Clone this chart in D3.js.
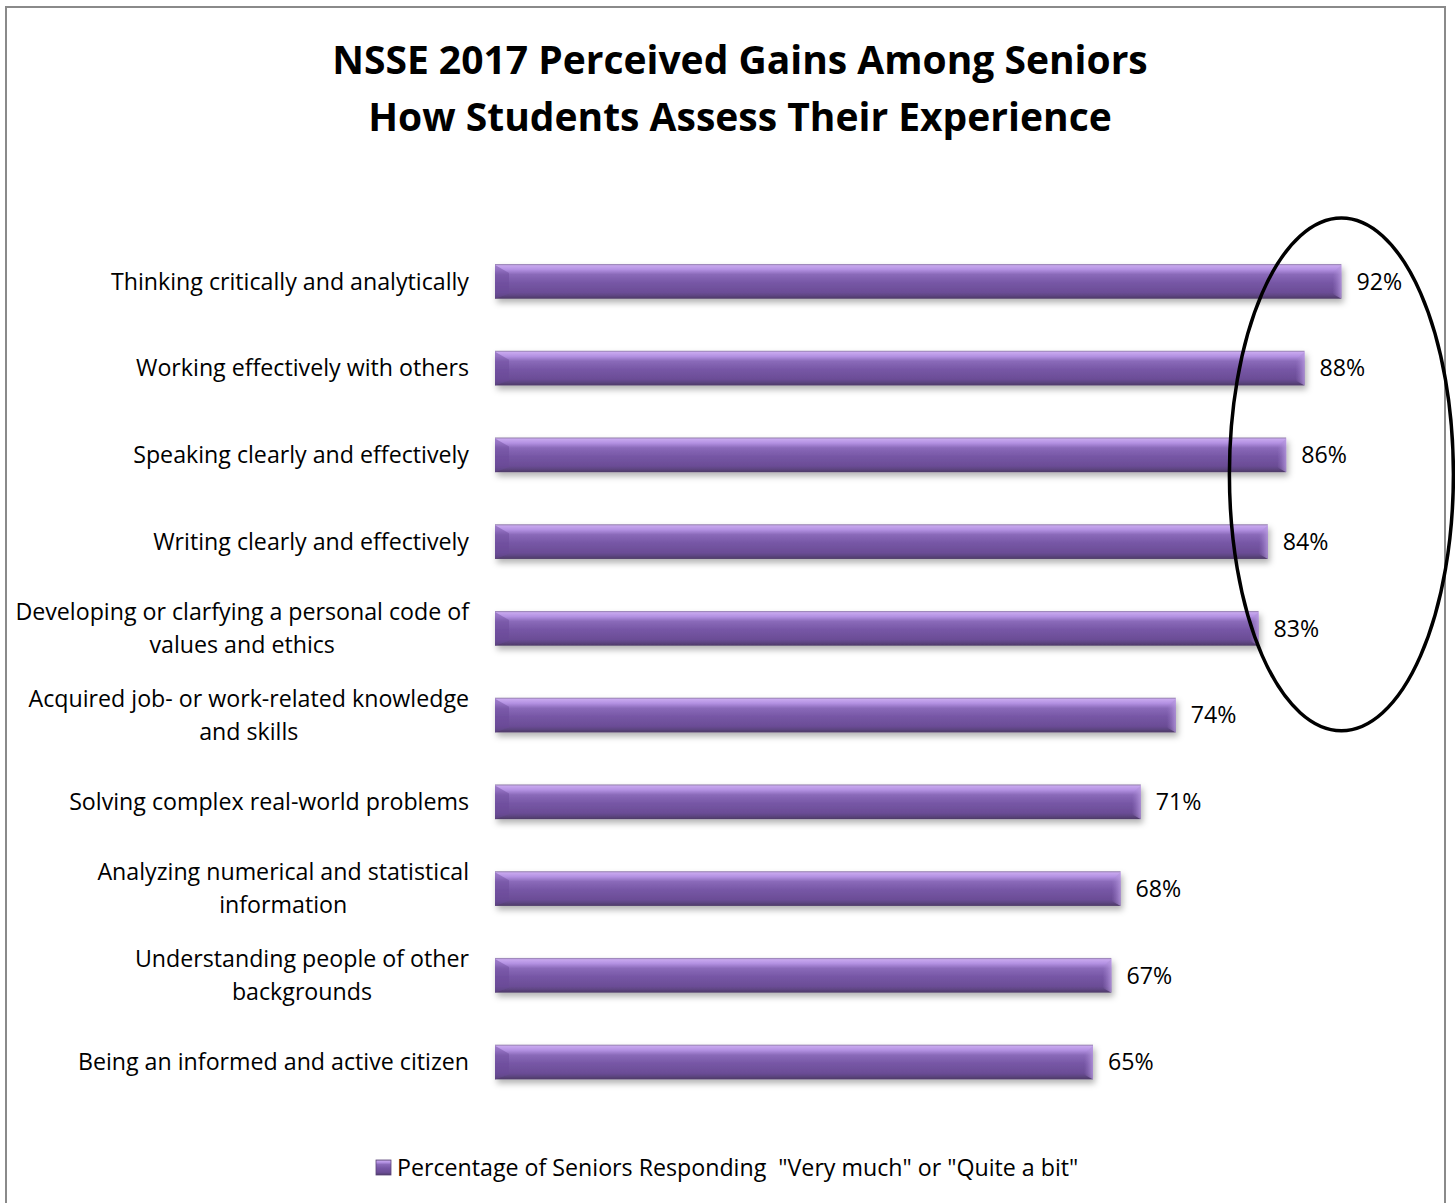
<!DOCTYPE html>
<html>
<head>
<meta charset="utf-8">
<script src="https://cdn.jsdelivr.net/npm/d3@7"></script>
<style>
  body { margin: 0; background: #fff; }
  text { font-family: "Open Sans", Lato, sans-serif; fill: #000; }
</style>
</head>
<body>
<svg id="chart"></svg>
<script>
// chart values
var categories = [
  "Thinking critically and analytically",
  "Working effectively with others",
  "Speaking clearly and effectively",
  "Writing clearly and effectively",
  "Developing or clarfying a personal code of\nvalues and ethics",
  "Acquired job- or work-related knowledge\nand skills",
  "Solving complex real-world problems",
  "Analyzing numerical and statistical\ninformation",
  "Understanding people of other\nbackgrounds",
  "Being an informed and active citizen"
]
// bar lengths as drawn, and the rounded labels printed next to them
var values = [92, 88, 86, 84, 83, 74, 70.2, 68, 67, 65]
var valueLabels = ["92%", "88%", "86%", "84%", "83%", "74%", "71%", "68%", "67%", "65%"]
var titleLines = ["NSSE 2017 Perceived Gains Among Seniors", "How Students Assess Their Experience"]
var seriesName = "Percentage of Seniors Responding  \"Very much\" or \"Quite a bit\""
var circled = 5 // top items that are ringed

var screen = {width: 1455, height: 1203}
var margins = {top: 238, bottom: 98, left: 495, right: 40}
var fontSize = 23.2

var svg = d3.select("#chart")
  .attr("width", screen.width)
  .attr("height", screen.height)

var defs = svg.append("defs")

var grad = defs.append("linearGradient")
  .attr("id", "barFill")
  .attr("x1", 0).attr("y1", 0).attr("x2", 0).attr("y2", 1)
var stops = [
  [0, "#8e7ca6"], [0.05, "#c7a7ee"], [0.16, "#b391e2"], [0.3, "#8a6ab9"],
  [0.55, "#7656a5"], [0.82, "#6b4d96"], [0.9, "#5f4684"], [1, "#4d3a66"]
]
grad.selectAll("stop").data(stops).enter().append("stop")
  .attr("offset", function(d){return d[0];})
  .attr("stop-color", function(d){return d[1];})

var capGrad = defs.append("linearGradient")
  .attr("id", "capFill")
  .attr("x1", 0).attr("y1", 0).attr("x2", 1).attr("y2", 0)
capGrad.append("stop").attr("offset", 0).attr("stop-color", "#9c7cc9").attr("stop-opacity", 0.0)
capGrad.append("stop").attr("offset", 1).attr("stop-color", "#b89ae0").attr("stop-opacity", 0.8)

var shadow = defs.append("filter").attr("id", "shadow")
  .attr("x", "-5%").attr("y", "-30%").attr("width", "110%").attr("height", "180%")
shadow.append("feDropShadow")
  .attr("dx", 2).attr("dy", 4).attr("stdDeviation", 3)
  .attr("flood-color", "#000").attr("flood-opacity", 0.3)

// frame
svg.append("path")
  .attr("d", "M6,1203 L6,7 L1445,7 L1445,1203")
  .attr("fill", "none")
  .attr("stroke", "#8a8a8a")
  .attr("stroke-width", 2)

// title
svg.append("g").selectAll("text")
  .data(titleLines).enter().append("text")
  .attr("x", 740)
  .attr("y", function(d,i){return 74 + i * 57;})
  .attr("text-anchor", "middle")
  .attr("font-size", 39)
  .attr("font-weight", "bold")
  .text(function(d){return d;})

var xScale = d3.scaleLinear()
  .domain([0, 100])
  .range([margins.left, margins.left + 920])

var yScale = d3.scaleBand()
  .domain(categories)
  .range([margins.top, screen.height - margins.bottom + 0.4])
  .paddingInner(0.6)
  .paddingOuter(0.3)

var bh = yScale.bandwidth()

var bars = svg.append("g").selectAll("g.bar")
  .data(values).enter().append("g")
  .attr("class", "bar")
  .attr("filter", "url(#shadow)")

bars.append("rect")
  .attr("x", xScale(0))
  .attr("y", function(d,i){return yScale(categories[i]);})
  .attr("width", function(d){return xScale(d) - xScale(0);})
  .attr("height", bh)
  .attr("fill", "url(#barFill)")

// bevel on the left end
bars.append("path")
  .attr("d", function(d,i){
    var y0 = yScale(categories[i]), x0 = xScale(0)
    return "M" + x0 + "," + (y0 + 1) + " L" + (x0 + 14) + "," + (y0 + 9) +
      " L" + (x0 + 14) + "," + (y0 + bh - 5) + " L" + x0 + "," + (y0 + bh) + " Z"
  })
  .attr("fill", "#6a4a98")
  .attr("opacity", 0.45)

// bevel on the right end
bars.append("path")
  .attr("d", function(d,i){
    var y0 = yScale(categories[i]), x1 = xScale(d)
    return "M" + x1 + "," + (y0 + 1) + " L" + (x1 - 9) + "," + (y0 + 9) +
      " L" + (x1 - 9) + "," + (y0 + bh - 5) + " L" + x1 + "," + (y0 + bh) + " Z"
  })
  .attr("fill", "url(#capFill)")

// value labels
svg.append("g").selectAll("text")
  .data(values).enter().append("text")
  .attr("x", function(d){return xScale(d) + 15;})
  .attr("y", function(d,i){return yScale(categories[i]) + bh / 2;})
  .attr("dy", "0.36em")
  .attr("font-size", fontSize)
  .text(function(d,i){return valueLabels[i];})

// category labels, wrapped lines centred inside a right aligned block
var labelRight = margins.left - 26
var labels = svg.append("g").selectAll("g.label")
  .data(categories).enter().append("g")
  .attr("class", "label")

labels.each(function(c){
  var g = d3.select(this)
  var lines = c.split("\n")
  var cy = yScale(c) + bh / 2
  var t = g.selectAll("text").data(lines).enter().append("text")
    .attr("y", function(d,i){return cy + (i - (lines.length - 1) / 2) * 33;})
    .attr("dy", "0.36em")
    .attr("font-size", fontSize)
    .text(function(d){return d;})
  var widths = []
  t.each(function(){widths.push(this.getComputedTextLength());})
  var maxW = d3.max(widths)
  t.attr("x", labelRight - maxW / 2).attr("text-anchor", "middle")
})

// ring around the top items
var ringTop = yScale(categories[0]) - 46
var ringBottom = yScale(categories[circled - 1]) + bh + 85
svg.append("ellipse")
  .attr("cx", xScale(values[0]))
  .attr("cy", (ringTop + ringBottom) / 2)
  .attr("rx", 112)
  .attr("ry", (ringBottom - ringTop) / 2)
  .attr("fill", "none")
  .attr("stroke", "#000")
  .attr("stroke-width", 3.5)

// legend
var legend = svg.append("g").attr("transform", "translate(376,1160)")
legend.append("rect")
  .attr("width", 15).attr("height", 15)
  .attr("fill", "url(#barFill)")
  .attr("stroke", "#5a4478").attr("stroke-width", 0.8)
legend.append("text")
  .attr("x", 21).attr("y", 8)
  .attr("dy", "0.36em")
  .attr("font-size", fontSize)
  .style("white-space", "pre")
  .text(seriesName)
</script>
</body>
</html>
